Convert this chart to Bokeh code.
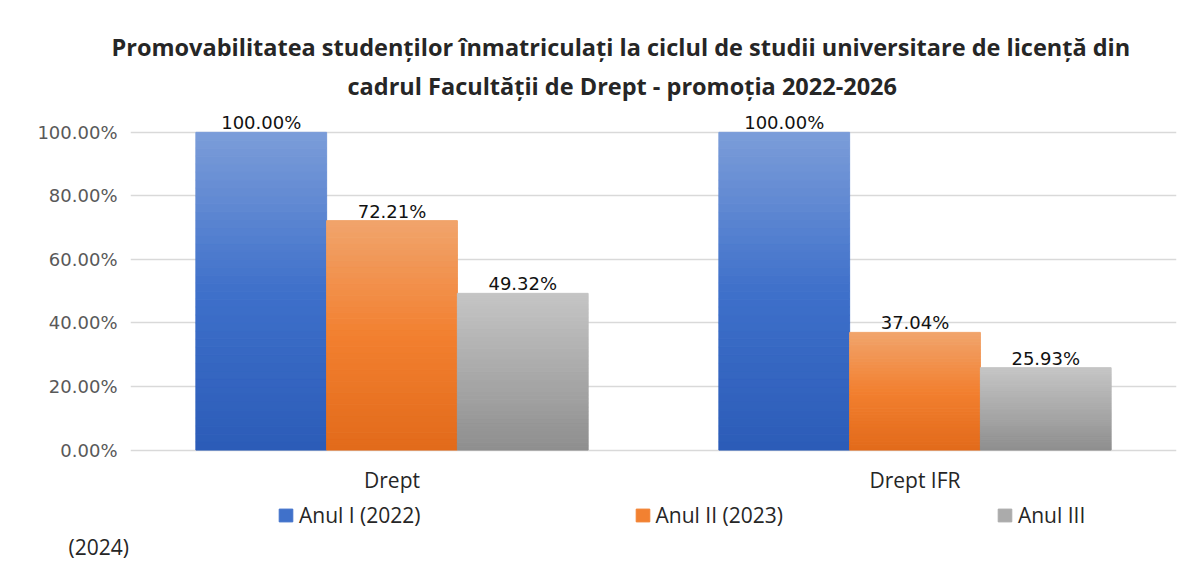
from bokeh.plotting import figure
from bokeh.models import (ColumnDataSource, FactorRange, Range1d, FixedTicker, Legend, LegendItem,
                          Title, CustomJSTickFormatter)
from bokeh.transform import dodge
from bokeh.core.properties import value
from bokeh.embed import file_html
from bokeh.resources import INLINE

# ---------------- data ----------------
categories = ["Drept", "Drept IFR"]
series_names = ["Anul I (2022)", "Anul II (2023)", "Anul III"]
anul_1 = [1.0000, 1.0000]
anul_2 = [0.7221, 0.3704]
anul_3 = [0.4932, 0.2593]
y_ticks = [0.0, 0.2, 0.4, 0.6, 0.8, 1.0]
title_line_1 = "Promovabilitatea studenților înmatriculați la ciclul de studii universitare de licență din"
title_line_2 = "cadrul Facultății de Drept - promoția 2022-2026"
legend_overflow = "(2024)"

# ---------------- style ----------------
gradients = [
    [(44, 92, 184), (62, 112, 202), (124, 157, 217)],
    [(226, 106, 26), (242, 128, 48), (241, 164, 108)],
    [(142, 142, 142), (170, 170, 170), (197, 197, 197)],
]
offsets = [-0.25, 0.0, 0.25]
BAR_W = 0.25
N_BANDS = 40
TXT = "#262626"

def lerp(c1, c2, t):
    return tuple(int(round(a + (b - a) * t)) for a, b in zip(c1, c2))

def grad_color(stops, t):
    if t <= 0.5:
        c = lerp(stops[0], stops[1], t / 0.5)
    else:
        c = lerp(stops[1], stops[2], (t - 0.5) / 0.5)
    return "#%02x%02x%02x" % c

# frame extends below zero to host category labels and legend
p = figure(
    x_range=FactorRange(*categories, range_padding=0),
    y_range=Range1d(-0.25, 1.075),
    width=1194, height=561,
    output_backend="svg", toolbar_location=None,
    min_border_left=130, min_border_right=18,
    min_border_top=108, min_border_bottom=29,
)
p.outline_line_color = None
p.background_fill_color = "white"
p.border_fill_color = "white"

legend_items = []
for s_idx, vals in enumerate([anul_1, anul_2, anul_3]):
    xs, bottoms, tops, colors = [], [], [], []
    for i in range(N_BANDS):
        t = (i + 0.5) / N_BANDS
        for c, v in zip(categories, vals):
            xs.append(c)
            bottoms.append(v * i / N_BANDS)
            tops.append(v * (i + 1) / N_BANDS)
            colors.append(grad_color(gradients[s_idx], t))
    src = ColumnDataSource(dict(x=xs, bottom=bottoms, top=tops, color=colors))
    r = p.vbar(x=dodge("x", offsets[s_idx], range=p.x_range), bottom="bottom", top="top",
               width=BAR_W, source=src, fill_color="color", line_color="color", line_width=1.0)
    legend_items.append(LegendItem(label=series_names[s_idx], renderers=[r], index=N_BANDS))

# data labels
for s_idx, vals in enumerate([anul_1, anul_2, anul_3]):
    sub = ColumnDataSource(dict(x=categories, y=vals, t=["%.2f%%" % (v * 100) for v in vals]))
    p.text(x=dodge("x", offsets[s_idx], range=p.x_range), y="y", text="t", source=sub,
           text_align="center", text_baseline="bottom", y_offset=1,
           text_font=value("DejaVu Sans"), text_font_size="18px", text_color="#111111")

# category labels (drawn under the zero line)
csrc = ColumnDataSource(dict(x=categories, y=[0.0] * len(categories), t=categories))
p.text(x="x", y="y", text="t", source=csrc, text_align="center", text_baseline="middle",
       y_offset=30, text_font=value("Open Sans"), text_font_size="21px", text_color=TXT)

# axes
p.xaxis.visible = False
p.yaxis.ticker = FixedTicker(ticks=y_ticks)
p.yaxis.formatter = CustomJSTickFormatter(code="return (tick*100).toFixed(2) + '%';")
p.yaxis.axis_line_color = None
p.yaxis.major_tick_line_color = None
p.yaxis.minor_tick_line_color = None
p.yaxis.major_label_text_font = "DejaVu Sans"
p.yaxis.major_label_text_font_size = "18px"
p.yaxis.major_label_text_color = "#595959"
p.yaxis.major_label_standoff = 7

p.xgrid.grid_line_color = None
p.ygrid.grid_line_color = "#d9d9d9"
p.ygrid.grid_line_width = 1.5
p.ygrid.ticker = FixedTicker(ticks=y_ticks)

# legend inside the (extended) frame, at its bottom
legend = Legend(items=legend_items, orientation="horizontal", location=(147, 0),
                glyph_width=17, glyph_height=16, label_standoff=5, spacing=213,
                padding=0, margin=0, border_line_color=None, background_fill_alpha=0,
                label_text_font="Open Sans", label_text_font_size="21px", label_text_color=TXT)
p.add_layout(legend)

p.add_layout(Title(text=legend_overflow, align="left", offset=-62, text_font="Open Sans",
                   text_font_size="21px", text_font_style="normal", text_color=TXT,
                   standoff=2), "below")

# title (two lines)
p.add_layout(Title(text=title_line_2, align="left", offset=217, text_font="Open Sans",
                   text_font_size="23.5px", text_font_style="bold", text_color=TXT,
                   standoff=13), "above")
p.add_layout(Title(text=title_line_1, align="left", offset=-19, text_font="Open Sans",
                   text_font_size="23.5px", text_font_style="bold", text_color=TXT,
                   standoff=-3), "above")

open("out.html", "w").write(file_html(p, INLINE))
